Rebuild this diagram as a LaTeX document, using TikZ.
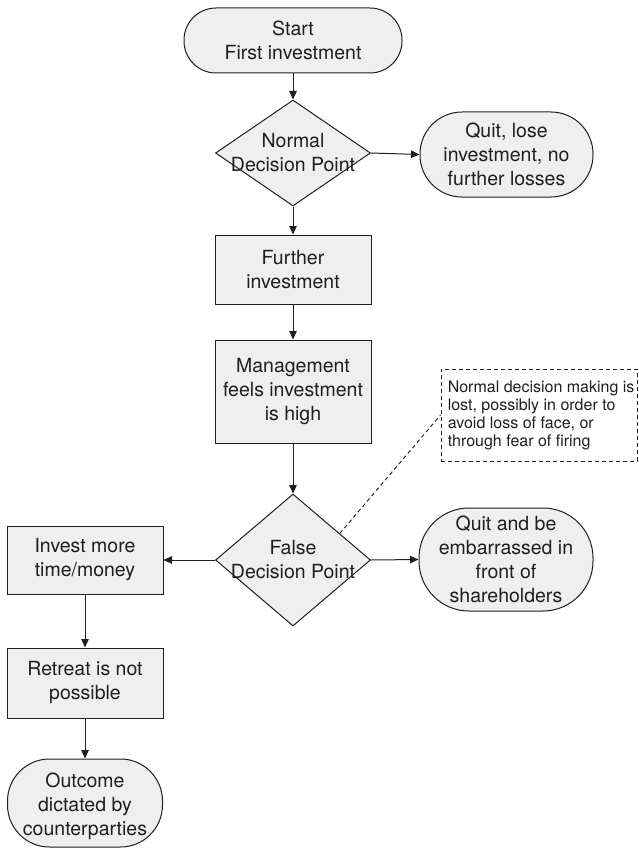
\documentclass[tikz,border=0pt]{standalone}
\usepackage{fontspec}
\setmainfont{TeX Gyre Heros}
\usetikzlibrary{shapes.geometric,arrows.meta,calc}
\definecolor{boxfill}{RGB}{239,239,239}
\definecolor{ink}{RGB}{30,30,30}
\tikzset{
  base/.style={draw=ink, fill=boxfill, line width=1pt, inner sep=0pt},
  procbox/.style={base, rectangle, minimum width=156pt, minimum height=#1},
  termbox/.style={base, rectangle, rounded corners=#1},
  decbox/.style={base, diamond, minimum width=155pt},
  txt/.style={text=ink, align=center, font=\fontsize{19.5}{24}\selectfont, inner sep=0pt},
  notetxt/.style={text=ink, align=left, font=\fontsize{16}{18}\selectfont, inner sep=0pt},
  arr/.style={draw=ink, line width=1pt, -{Triangle[length=8.5pt,width=7.5pt]}},
  notedash/.style={draw=ink, line width=0.9pt, dash pattern=on 4pt off 3pt},
}
\begin{document}
\begin{tikzpicture}[x=1pt,y=-1pt]
\useasboundingbox (0,0) rectangle (639,848);
% terminals
\node[termbox=32pt, minimum width=218pt, minimum height=65pt] (start) at (293,40.5) {};
\node[txt] at (start) {Start\\First investment};
\node[termbox=42pt, minimum width=173pt, minimum height=85pt] (q1) at (506.5,154.5) {};
\node[txt] at (q1) {Quit, lose\\investment, no\\further losses};
\node[termbox=50pt, minimum width=174pt, minimum height=103pt] (q2) at (506,559.5) {};
\node[txt] at (q2) {Quit and be\\embarrassed in\\front of\\shareholders};
\node[termbox=42pt, minimum width=155pt, minimum height=88pt] (out) at (85,803) {};
\node[txt] at ($(out)+(0,3)$) {Outcome\\dictated by\\counterparties};
% decisions
\node[decbox, minimum height=106pt] (d1) at (293,153) {};
\node[txt] at (d1) {Normal\\Decision Point};
\node[decbox, minimum height=132pt] (d2) at (293,560) {};
\node[txt] at (d2) {False\\Decision Point};
% process boxes
\node[procbox=69pt] (fi) at (293,269.5) {};
\node[txt] at (fi) {Further\\investment};
\node[procbox=103pt] (mg) at (293,391.5) {};
\node[txt] at (mg) {Management\\feels investment\\is high};
\node[base, rectangle, minimum width=156pt, minimum height=68pt] (inv) at (85,560) {};
\node[txt] at (inv) {Invest more\\time/money};
\node[base, rectangle, minimum width=156pt, minimum height=70pt] (ret) at (85,683) {};
\node[txt] at (ret) {Retreat is not\\possible};
% note
\node[notedash, rectangle, minimum width=196pt, minimum height=92pt, inner sep=0pt] (note) at (539,415) {};
\node[notetxt, anchor=west] at ($(note.west)+(7,0)$) {Normal decision making is\\lost, possibly in order to\\avoid loss of face, or\\through fear of firing};
% connectors
\draw[arr] (start.south) -- (d1.north);
\draw[arr] (d1.east) -- (q1.west);
\draw[arr] (d1.south) -- (fi.north);
\draw[arr] (fi.south) -- (mg.north);
\draw[arr] (mg.south) -- (d2.north);
\draw[arr] (d2.west) -- (inv.east);
\draw[arr] (d2.east) -- (q2.west);
\draw[arr] (inv.south) -- (ret.north);
\draw[arr] (ret.south) -- (out.north);
\draw[notedash] ($(d2.north)!0.6!(d2.east)$) -- (note.west);
\end{tikzpicture}
\end{document}
